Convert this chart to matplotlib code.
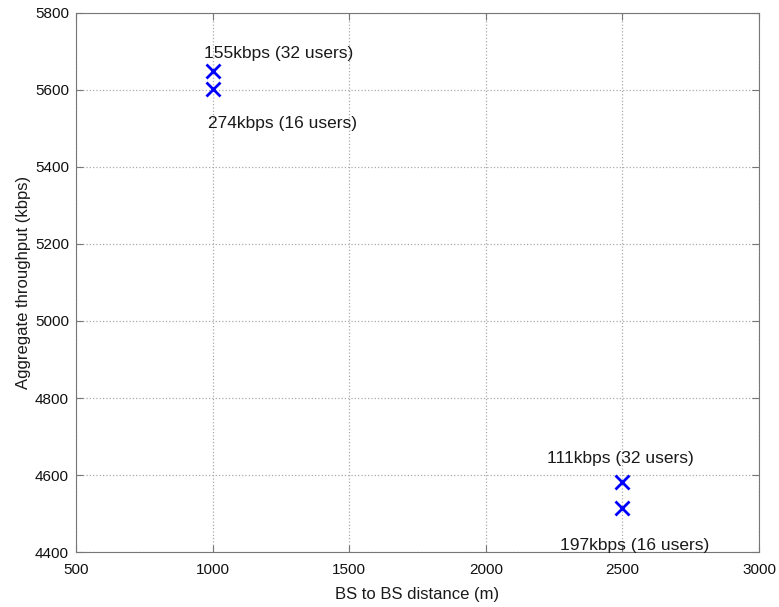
import matplotlib.pyplot as plt

plt.rcParams['font.family'] = ['Liberation Sans', 'DejaVu Sans']

# measured points: BS distance (m) vs aggregate throughput (kbps)
distance = [1000, 1000, 2500, 2500]
throughput = [5650, 5603, 4583, 4515]
labels = ['155kbps (32 users)', '274kbps (16 users)',
          '111kbps (32 users)', '197kbps (16 users)']
# where each label sits (left edge, vertical centre) in data units
label_x = [968, 983, 2224, 2271]
label_y = [5696, 5514, 4644, 4418]

fig = plt.figure(figsize=(7.79, 6.07), dpi=100)
ax = fig.add_axes([0.0976, 0.0906, 0.8767, 0.888])

ax.plot(distance, throughput, 'x', color='#0000ff', markersize=10, mew=2)

for tx, ty, s in zip(label_x, label_y, labels):
    ax.text(tx, ty, s, fontsize=12.5, ha='left', va='center', color='#1a1a1a')

ax.set_xlim(500, 3000)
ax.set_ylim(4400, 5800)
ax.set_xticks(range(500, 3001, 500))
ax.set_yticks(range(4400, 5801, 200))
ax.grid(True, linestyle=':', color='#aaaaaa', linewidth=0.9)
ax.tick_params(direction='in', length=5, color='#777777', labelsize=11,
               top=True, right=True, labelcolor='#111111')
ax.tick_params(axis='x', pad=8)
ax.tick_params(axis='y', pad=5)
for sp in ax.spines.values():
    sp.set_color('#777777')

ax.set_xlabel('BS to BS distance (m)', fontsize=12, color='#1a1a1a', labelpad=7)
ax.set_ylabel('Aggregate throughput (kbps)', fontsize=12, color='#1a1a1a', labelpad=3)

fig.savefig('out.png', dpi=100)
